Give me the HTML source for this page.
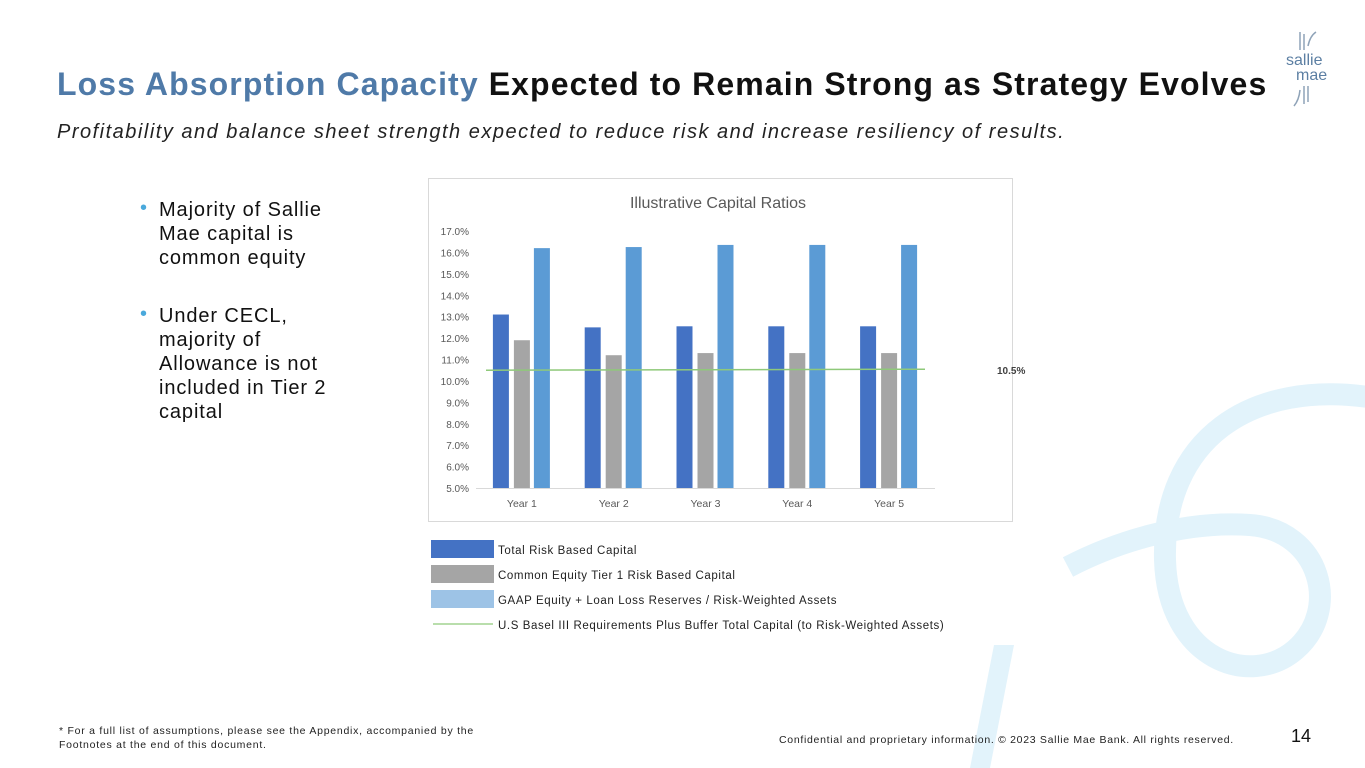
<!DOCTYPE html>
<html><head><meta charset="utf-8">
<style>
body{margin:0;width:1365px;height:768px;overflow:hidden;background:#fff;font-family:"Liberation Sans",sans-serif;position:relative}
.abs{position:absolute}
</style></head><body>
<svg class="abs" style="left:0;top:0" width="1365" height="768">
<path d="M1375,398 C1250,378 1162,440 1165,560 C1168,660 1250,688 1295,650 C1342,610 1320,530 1250,525 C1180,520 1110,545 1068,567" fill="none" stroke="#e2f3fb" stroke-width="22"/>
<polygon points="994,645 1014,645 990,768 970,768" fill="#e2f3fb"/>
</svg>
<div class="abs" style="left:57px;top:66px;font-size:32px;font-weight:bold;letter-spacing:1.1px;white-space:nowrap"><span style="color:#4f7aa8">Loss Absorption Capacity</span> <span style="color:#111">Expected to Remain Strong as Strategy Evolves</span></div>
<div class="abs" style="left:57px;top:121px;font-size:20px;font-style:italic;color:#222;white-space:nowrap;letter-spacing:1.5px">Profitability and balance sheet strength expected to reduce risk and increase resiliency of results.</div>
<div class="abs" style="left:1284px;top:30px;width:60px;height:80px">
<svg width="60" height="80"><path d="M16,2 L16,20 M20,4 L20,20 M24,16 Q26,6 32,2" stroke="#8fa3b8" stroke-width="1.5" fill="none"/><path d="M20,56 L20,74 M24,56 L24,72 M16,60 Q15,70 10,76" stroke="#8fa3b8" stroke-width="1.5" fill="none"/>
<text x="2" y="35" font-size="16" fill="#5c7fa3" font-family="Liberation Sans">sallie</text><text x="12" y="50" font-size="16" fill="#5c7fa3" font-family="Liberation Sans">mae</text></svg></div>
<div class="abs" style="left:140px;top:198px;font-size:20px;color:#111;line-height:24px;width:215px;letter-spacing:0.9px">
<div style="position:relative;padding-left:19px"><span style="position:absolute;left:0;top:-2px;color:#4aa9dc">•</span>Majority of Sallie Mae capital is common equity</div>
<div style="position:relative;padding-left:19px;margin-top:34px"><span style="position:absolute;left:0;top:-2px;color:#4aa9dc">•</span>Under CECL, majority of Allowance is not included in Tier 2 capital</div>
</div>
<svg class="abs" id="chart" style="left:0;top:0" width="1365" height="768"></svg>
<div class="abs" style="left:59px;top:724px;font-size:10.5px;color:#222;line-height:14px;letter-spacing:0.75px">* For a full list of assumptions, please see the Appendix, accompanied by the<br>Footnotes at the end of this document.</div>
<div class="abs" style="left:779px;top:734px;font-size:10.5px;color:#222;letter-spacing:0.7px">Confidential and proprietary information. © 2023 Sallie Mae Bank. All rights reserved.</div>
<div class="abs" style="left:1291px;top:726px;font-size:18px;color:#111">14</div>
<script>
const categories=["Year 1","Year 2","Year 3","Year 4","Year 5"];
const totalRisk=[13.1,12.5,12.55,12.55,12.55];
const cet1=[11.9,11.2,11.3,11.3,11.3];
const gaap=[16.2,16.25,16.35,16.35,16.35];
const baselLine=10.5;
const yTicks=[5,6,7,8,9,10,11,12,13,14,15,16,17];
const legendLabels=["Total Risk Based Capital","Common Equity Tier 1 Risk Based Capital","GAAP Equity + Loan Loss Reserves / Risk-Weighted Assets","U.S Basel III Requirements Plus Buffer Total Capital (to Risk-Weighted Assets)"];
const NS="http://www.w3.org/2000/svg";
const svg=document.getElementById('chart');
function mk(t,a,p){const e=document.createElementNS(NS,t);for(const k in a)e.setAttribute(k,a[k]);(p||svg).appendChild(e);return e;}
const x0=476,x1=935,y0=488,yTop=231,ymin=5,ymax=17;
const y=v=>y0-(v-ymin)/(ymax-ymin)*(y0-yTop);
const cw=(x1-x0)/categories.length;
const cx=i=>x0+cw*(i+0.5);
let e=mk('rect',{x:428.5,y:178.5,width:584,height:343,fill:'#fff',stroke:'#d9d9d9'});


e=mk('text',{x:718,y:208,'text-anchor':'middle','font-size':16,fill:'#595959','font-family':'Liberation Sans'});e.textContent='Illustrative Capital Ratios';


yTicks.forEach(t=>{const l=mk('text',{x:469,y:y(t)+4,'text-anchor':'end','font-size':10,fill:'#595959','font-family':'Liberation Sans'});l.textContent=t.toFixed(1)+'%';

});
e=mk('line',{x1:x0,x2:x1,y1:y0+0.5,y2:y0+0.5,stroke:'#d9d9d9'});


const series=[[totalRisk,'#4472c4',-29],[cet1,'#a5a5a5',-8],[gaap,'#5b9bd5',12]];
categories.forEach((c,i)=>{
 series.forEach(([arr,col,off],s)=>{const r=mk('rect',{x:cx(i)+off,y:y(arr[i]),width:16,height:y0-y(arr[i]),fill:col});
 
 });
 const t=mk('text',{x:cx(i),y:507,'text-anchor':'middle','font-size':10.5,fill:'#595959','font-family':'Liberation Sans'});t.textContent=c;
 
 
});
e=mk('line',{x1:x0+10,x2:925,y1:y(baselLine),y2:y(baselLine)-1,stroke:'#8fc97a','stroke-width':1.5});


e=mk('text',{x:997,y:y(baselLine)+4,'font-size':10,'font-weight':'bold',fill:'#404040','font-family':'Liberation Sans'});e.textContent=baselLine.toFixed(1)+'%';


const lc=['#4472c4','#a5a5a5','#9dc3e6'];
legendLabels.forEach((lab,i)=>{
 const ly=540+i*25;
 let s;
 if(i<3){s=mk('rect',{x:431,y:ly,width:63,height:18,fill:lc[i]});}
 else{s=mk('line',{x1:433,x2:493,y1:624,y2:624,stroke:'#8fc97a','stroke-width':1.2});}
 
 
 const t=mk('text',{x:498,y:ly+14,'font-size':11.5,fill:'#222','font-family':'Liberation Sans','letter-spacing':0.6});t.textContent=lab;
 
 
});
</script>
</body></html>
